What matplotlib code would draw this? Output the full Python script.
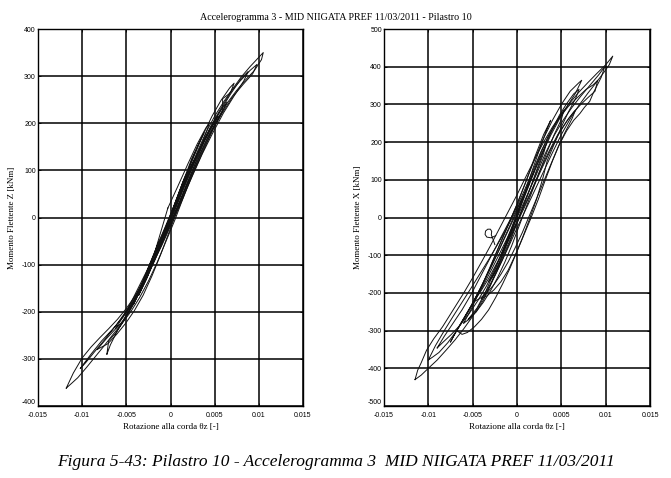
import matplotlib
matplotlib.use("Agg")
import matplotlib.pyplot as plt
import numpy as np

# ---------------- data (rotation in mrad, moment in kNm) ----------------
title_text = "Accelerogramma 3 - MID NIIGATA PREF 11/03/2011 - Pilastro 10"
caption_text = "Figura 5-43: Pilastro 10 - Accelerogramma 3  MID NIIGATA PREF 11/03/2011"
xlabel_text = "Rotazione alla corda θz [-]"
ylabel_left = "Momento Flettente Z [kNm]"
ylabel_right = "Momento Flettente X [kNm]"

x_ticks = [-0.015, -0.01, -0.005, 0, 0.005, 0.01, 0.015]
x_ticklabels = ["-0.015", "-0.01", "-0.005", "0", "0.005", "0.01", "0.015"]
yticks_left = [-400, -300, -200, -100, 0, 100, 200, 300, 400]
yticks_right = [-500, -400, -300, -200, -100, 0, 100, 200, 300, 400, 500]

# Left plot (Z) loops
z1_x = [-0.3, 0.8, 2.0, 3.0, 4.0, 4.4, 4.0, 3.2, 2.2, 1.0, -0.2, -1.4, -2.6, -3.6, -4.2, -3.8, -3.0, -1.8, -0.3]
z1_y = [20, 65, 115, 155, 190, 200, 178, 140, 95, 45, -5, -55, -110, -160, -185, -170, -130, -75, 20]

z2_x = [-6.2, -5.0, -3.8, -2.6, -1.4, -0.2, 1.0, 2.2, 3.4, 4.6, 5.8, 6.4, 5.9, 4.9, 3.8, 2.6, 1.4, 0.2, -1.0, -2.2, -3.4, -4.6, -5.6, -6.2]
z2_y = [-235, -200, -155, -110, -60, -10, 45, 100, 150, 195, 230, 245, 225, 190, 145, 95, 40, -10, -60, -105, -150, -195, -225, -235]

z3_x = [-7.2, -7.0, -6.2, -5.2, -4.0, -2.8, -1.6, -0.4, 0.8, 2.0, 3.2, 4.4, 5.6, 6.8, 8.0, 8.8, 8.3, 7.2, 6.0, 4.8, 3.6, 2.4, 1.2, 0.0, -1.2, -2.4, -3.6, -4.8, -6.0, -6.8, -7.2]
z3_y = [-290, -262, -245, -215, -170, -120, -70, -20, 35, 90, 140, 185, 225, 262, 295, 310, 290, 258, 222, 180, 135, 85, 35, -15, -65, -115, -160, -205, -240, -270, -290]

z4_x = [-11.8, -11.0, -10.0, -9.0, -8.0, -7.0, -6.0, -5.0, -4.0, -3.0, -2.0, -1.0, 0.0, 1.0, 2.0, 3.0, 4.0, 5.0, 6.0, 7.0, 8.0, 9.0, 10.0, 10.5,
        10.3, 9.5, 8.5, 7.5, 6.5, 5.5, 4.5, 3.5, 2.5, 1.5, 0.5, -0.5, -1.5, -2.5, -3.5, -4.5, -5.5, -6.5, -7.5, -8.5, -9.5, -10.5, -11.2, -11.8]
z4_y = [-362, -330, -298, -275, -255, -236, -216, -193, -166, -133, -94, -54, -8, 40, 90, 138, 180, 215, 245, 272, 298, 320, 340, 350,
        335, 312, 292, 270, 245, 215, 180, 140, 95, 45, -5, -50, -95, -135, -170, -200, -225, -248, -272, -295, -318, -340, -352, -362]

z5_x = [-10.2, -9.0, -7.8, -6.6, -5.4, -4.2, -3.0, -1.8, -0.6, 0.6, 1.8, 3.0, 4.2, 5.4, 5.9, 5.9, 6.6, 7.8, 9.0, 9.8,
        9.3, 8.2, 7.0, 5.8, 4.6, 3.4, 2.2, 1.0, -0.2, -1.4, -2.6, -3.8, -5.0, -6.2, -7.4, -8.6, -9.6, -10.2]
z5_y = [-320, -290, -262, -238, -212, -180, -140, -92, -40, 15, 70, 122, 170, 210, 228, 252, 262, 288, 312, 325,
        305, 282, 255, 220, 180, 132, 82, 30, -20, -70, -118, -160, -198, -230, -258, -285, -308, -320]

z6_x = [-2.8, -1.8, -0.8, 0.2, 1.2, 2.2, 2.9, 2.4, 1.4, 0.4, -0.6, -1.6, -2.4, -2.8]
z6_y = [-125, -80, -35, 15, 60, 105, 130, 112, 70, 25, -20, -65, -105, -125]

z7_x = [-5.0, -4.0, -3.0, -2.0, -1.0, 0.0, 1.0, 2.0, 3.0, 4.0, 5.0, 5.4, 4.8, 3.8, 2.8, 1.8, 0.8, -0.2, -1.2, -2.2, -3.2, -4.2, -5.0]
z7_y = [-200, -170, -135, -95, -50, 0, 45, 92, 135, 172, 205, 215, 195, 160, 120, 75, 30, -15, -60, -105, -145, -180, -200]

z8_x = [-3.6, -2.6, -1.6, -0.6, 0.4, 1.4, 2.4, 3.4, 3.8, 3.3, 2.3, 1.3, 0.3, -0.7, -1.7, -2.7, -3.6]
z8_y = [-165, -125, -80, -30, 25, 75, 125, 165, 180, 160, 115, 65, 15, -35, -85, -130, -165]

z9_x = [-1.8, -1.0, -0.2, 0.6, 1.4, 2.0, 1.6, 0.8, 0.0, -0.8, -1.6, -1.8]
z9_y = [-80, -45, -5, 35, 75, 100, 85, 45, 5, -35, -70, -80]

z10_x = [-8.3, -7.3, -6.3, -5.3, -4.3, -3.3, -2.3, -1.3, -0.3, 0.7, 1.7, 2.7, 3.7, 4.7, 5.7, 6.7, 7.2,
         6.8, 5.9, 4.9, 3.9, 2.9, 1.9, 0.9, -0.1, -1.1, -2.1, -3.1, -4.1, -5.1, -6.1, -7.1, -8.3]
z10_y = [-280, -258, -238, -218, -188, -150, -108, -62, -14, 36, 86, 132, 176, 215, 248, 275, 285,
         265, 238, 205, 165, 120, 72, 22, -28, -78, -124, -165, -198, -225, -248, -268, -280]

# Right plot (X) loops
x1_x = [-3.2, -2.4, -1.4, -0.4, 0.6, 1.6, 2.6, 3.3, 3.0, 2.2, 1.2, 0.2, -0.8, -1.8, -2.8, -3.2]
x1_y = [-170, -140, -85, -25, 40, 100, 160, 195, 170, 120, 60, 0, -60, -115, -160, -170]

x2_x = [-5.5, -4.5, -3.5, -2.5, -1.5, -0.5, 0.5, 1.5, 2.5, 3.5, 4.5, 5.3, 5.0, 4.2, 3.4, 2.6, 1.8, 1.0, 0.2, -0.6, -1.4, -2.2, -3.0, -3.8, -4.6, -5.5]
x2_y = [-270, -240, -195, -140, -80, -20, 40, 100, 160, 215, 255, 285, 260, 220, 175, 125, 75, 25, -25, -75, -120, -160, -195, -225, -250, -270]

x3_x = [-11.5, -11.2, -10.8, -10.2, -9.4, -8.4, -7.2, -6.0, -5.0, -4.0, -3.0, -2.0, -1.0, 0.0, 1.0, 2.0, 3.0, 4.0, 5.0, 6.0, 7.0, 8.0, 9.0, 10.0, 10.8,
        10.4, 9.8, 9.0, 8.0, 7.0, 6.0, 5.0, 4.0, 3.0, 2.0, 1.0, 0.0, -1.0, -2.0, -3.0, -4.0, -5.0, -6.0, -7.0, -8.0, -9.0, -10.0, -10.8, -11.5]
x3_y = [-430, -405, -385, -352, -322, -290, -245, -200, -160, -118, -75, -30, 15, 60, 108, 155, 200, 240, 275, 305, 333, 358, 382, 405, 428,
        405, 385, 360, 330, 298, 262, 220, 172, 122, 72, 22, -28, -80, -130, -180, -222, -262, -295, -325, -352, -378, -400, -418, -430]

x4_x = [-9.0, -8.2, -7.2, -6.2, -5.2, -4.2, -3.2, -2.2, -1.2, -0.2, 0.8, 1.8, 2.8, 3.8, 4.8, 5.8, 6.8, 7.8, 8.6, 9.1,
        8.8, 8.0, 7.2, 6.4, 5.6, 4.6, 3.6, 2.6, 1.6, 0.6, -0.4, -1.4, -2.4, -3.4, -4.4, -5.4, -6.4, -7.4, -8.4, -9.0]
x4_y = [-346, -315, -280, -245, -205, -160, -115, -70, -25, 20, 70, 125, 180, 225, 265, 295, 318, 340, 352, 364,
        335, 318, 300, 280, 255, 220, 175, 125, 70, 20, -30, -80, -130, -180, -220, -255, -285, -310, -332, -346]

x5_x = [-7.5, -6.8, -6.0, -5.0, -4.0, -3.0, -2.0, -1.0, 0.0, 1.0, 2.0, 3.0, 4.0, 5.0, 6.0, 7.0, 7.3,
        6.6, 5.8, 4.8, 3.8, 2.8, 1.8, 0.8, -0.2, -1.2, -2.2, -3.2, -4.2, -5.2, -6.2, -7.0, -7.5]
x5_y = [-330, -300, -268, -228, -182, -130, -75, -20, 35, 95, 155, 210, 258, 300, 335, 358, 364,
        330, 300, 262, 218, 168, 115, 62, 10, -42, -95, -145, -192, -235, -275, -308, -330]

x6_x = [-5.0, -4.2, -3.2, -2.2, -1.2, -0.2, 0.8, 1.8, 2.8, 3.8, 4.8, 5.8, 6.6, 6.2, 5.4, 4.6, 3.8, 3.0, 2.2, 1.4, 0.6, -0.2, -1.0, -1.8, -2.6, -3.4, -4.2, -5.0]
x6_y = [-225, -200, -162, -118, -72, -25, 25, 78, 130, 180, 225, 262, 285, 262, 225, 185, 140, 95, 50, 5, -40, -80, -118, -150, -178, -200, -215, -225]

x7_x = [-2.4, -2.9, -3.4, -3.6, -3.55, -3.3, -3.0, -2.85, -2.9, -2.7, -2.5]
x7_y = [-48, -54, -52, -45, -36, -31, -31, -37, -46, -58, -72]

x8_x = [-6.8, -5.8, -4.8, -3.8, -2.8, -1.8, -0.8, 0.2, 1.2, 2.2, 3.2, 4.2, 5.2, 6.2, 7.2, 8.2, 9.2, 9.9,
        9.5, 8.6, 8.2, 7.6, 7.1, 6.4, 5.6, 4.8, 4.0, 3.2, 2.4, 1.6, 0.8, 0.0, -0.8, -1.6, -2.4, -3.2, -4.0, -4.8, -5.6, -6.2, -6.8]
x8_y = [-300, -262, -222, -180, -135, -88, -40, 10, 62, 115, 170, 218, 258, 292, 322, 350, 378, 400,
        372, 330, 308, 292, 276, 258, 230, 195, 150, 100, 48, 0, -45, -90, -135, -175, -212, -245, -270, -290, -305, -310, -300]

x9_x = [-6.0, -5.0, -4.0, -3.0, -2.0, -1.0, 0.0, 1.0, 2.0, 3.0, 3.8, 3.4, 2.6, 1.8, 1.0, 0.2, -0.6, -1.4, -2.2, -3.0, -3.8, -4.6, -5.4, -6.0]
x9_y = [-280, -235, -185, -130, -75, -20, 35, 95, 160, 220, 258, 235, 185, 130, 75, 20, -35, -85, -135, -180, -220, -250, -270, -280]

x10_x = [-4.0, -3.2, -2.4, -1.6, -0.8, 0.0, 0.8, 1.6, 2.4, 3.2, 4.0, 4.8, 5.6, 6.4, 7.0,
         6.6, 5.8, 5.0, 4.2, 3.4, 2.9, 2.2, 1.4, 0.6, -0.2, -1.0, -1.8, -2.6, -3.4, -4.0]
x10_y = [-215, -185, -150, -110, -65, -15, 35, 85, 138, 190, 235, 272, 302, 328, 340,
         315, 280, 240, 195, 150, 103, 48, -5, -55, -100, -140, -170, -192, -208, -215]

x11_x = [-1.8, -1.0, -0.2, 0.6, 1.4, 1.9, 1.5, 0.7, -0.1, -0.9, -1.6, -1.8]
x11_y = [-100, -55, -5, 45, 95, 120, 100, 50, 0, -50, -90, -100]

x12_x = [-10.0, -9.2, -8.2, -7.2, -6.2, -5.2, -4.2, -3.2, -2.2, -1.2, -0.2, 0.8, 1.4,
         1.0, 0.2, -0.8, -1.8, -2.8, -3.8, -4.8, -5.8, -6.8, -7.8, -8.8, -9.5, -10.0]
x12_y = [-378, -340, -300, -262, -225, -188, -150, -112, -72, -30, 15, 62, 90,
         70, 25, -25, -75, -125, -172, -218, -262, -300, -332, -358, -370, -378]

left_loops = [(z1_x, z1_y), (z2_x, z2_y), (z3_x, z3_y), (z4_x, z4_y), (z5_x, z5_y),
              (z6_x, z6_y), (z7_x, z7_y), (z8_x, z8_y), (z9_x, z9_y), (z10_x, z10_y)]
right_loops = [(x1_x, x1_y), (x2_x, x2_y), (x3_x, x3_y), (x4_x, x4_y), (x5_x, x5_y), (x6_x, x6_y),
               (x7_x, x7_y), (x8_x, x8_y), (x9_x, x9_y), (x10_x, x10_y), (x11_x, x11_y), (x12_x, x12_y)]

# ---------------- figure ----------------
fig = plt.figure(figsize=(6.71, 4.78), dpi=100)
serif = ["Liberation Serif", "DejaVu Serif"]
sans = ["Liberation Sans", "DejaVu Sans"]

ax_l = fig.add_axes([38 / 671, 1 - 406 / 478, 265 / 671, 377 / 478])
ax_r = fig.add_axes([384 / 671, 1 - 406 / 478, 266 / 671, 377 / 478])


def style(ax, yticks, ylim, ylabel):
    ax.set_xlim(-0.015, 0.015)
    ax.set_ylim(*ylim)
    ax.set_xticks(x_ticks)
    ax.set_xticklabels(x_ticklabels, fontfamily=sans, fontsize=5)
    ax.set_yticks(yticks)
    ax.set_yticklabels([str(v) for v in yticks], fontfamily=sans, fontsize=5)
    ax.grid(True, color="black", linewidth=1.1, linestyle="-")
    ax.set_axisbelow(True)
    ax.tick_params(axis="x", direction="in", length=2, width=0.6, pad=4, top=True)
    ax.tick_params(axis="y", direction="in", length=2, width=0.6, pad=1.5, right=True)
    # keep the lowest y label clear of the first x label
    ax.get_yticklabels()[0].set_verticalalignment("bottom")
    for s in ax.spines.values():
        s.set_linewidth(1.0)
    ax.set_xlabel(xlabel_text, fontfamily=serif, fontsize=6.5, labelpad=3)
    ax.set_ylabel(ylabel, fontfamily=serif, fontsize=6.5, labelpad=4)


for lx, ly in left_loops:
    ax_l.plot(np.array(lx) * 1e-3, ly, color="#111111", linewidth=0.7)
for lx, ly in right_loops:
    ax_r.plot(np.array(lx) * 1e-3, ly, color="#111111", linewidth=0.7)

style(ax_l, yticks_left, (-400, 400), ylabel_left)
style(ax_r, yticks_right, (-500, 500), ylabel_right)

fig.text(0.5, 1 - 18 / 478, title_text, ha="center", va="center", fontfamily=serif, fontsize=7.2)
fig.text(0.5, 1 - 462 / 478, caption_text, ha="center", va="center", fontfamily=serif,
         fontstyle="italic", fontsize=12.5)

fig.savefig("out.png", dpi=100)
